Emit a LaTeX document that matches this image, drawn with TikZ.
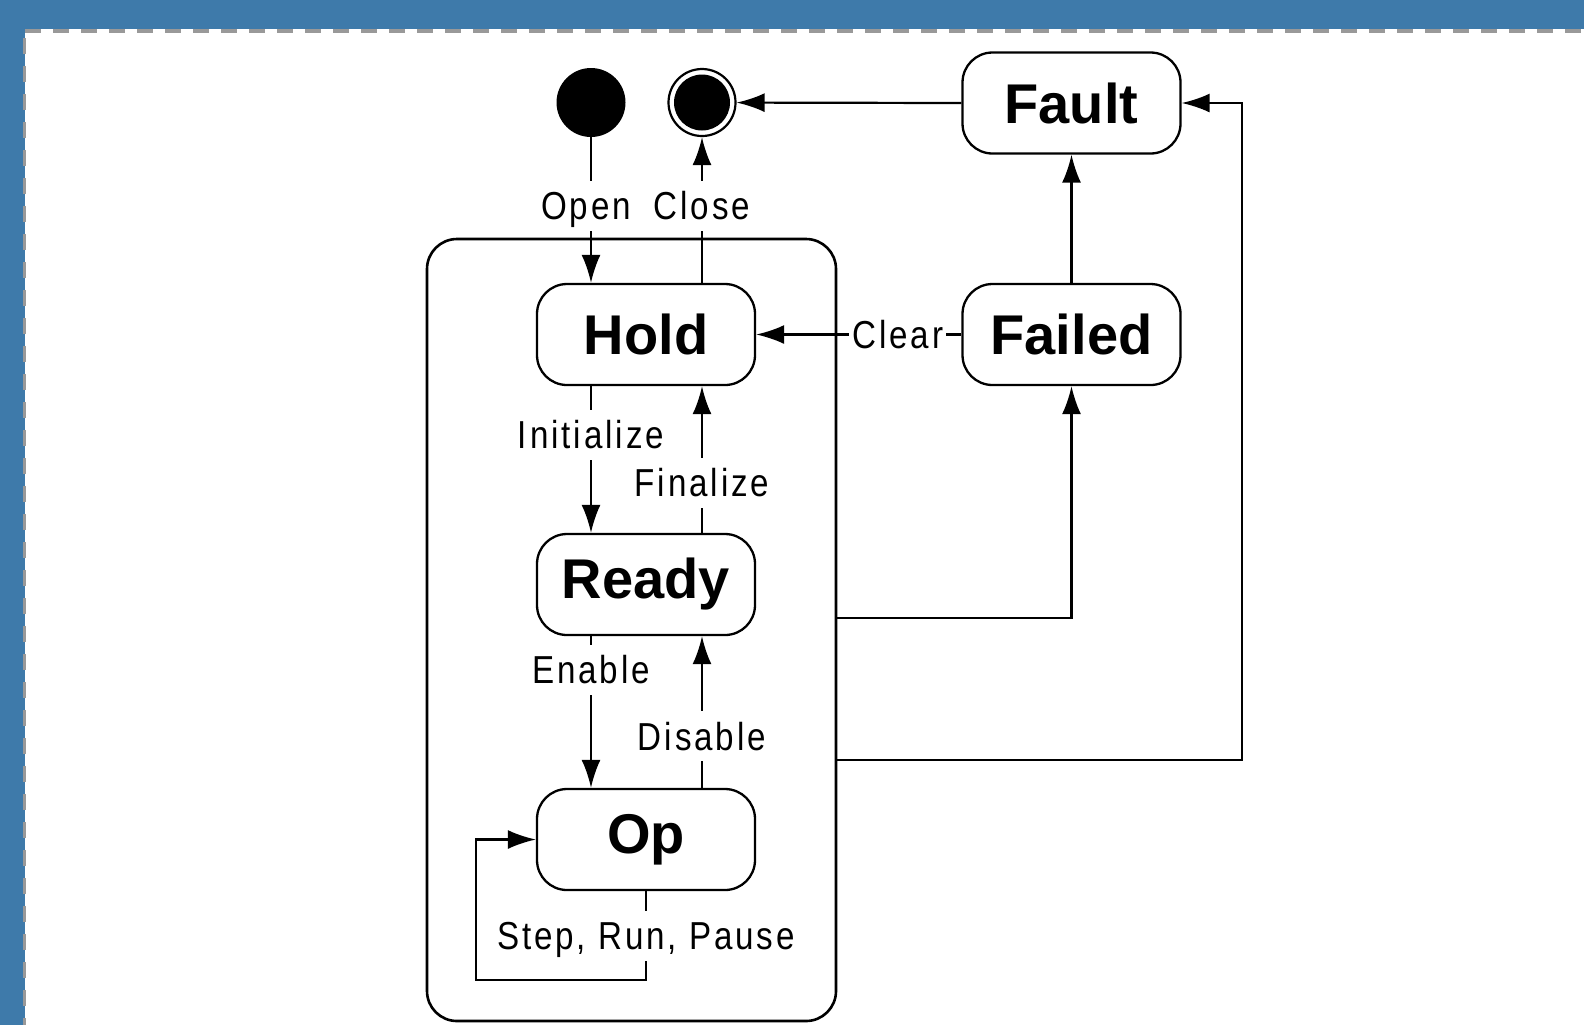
\documentclass[tikz,border=0pt]{standalone}
\usepackage{fontspec}
\setmainfont{Liberation Sans}
\newfontfamily\lblfont[FakeStretch=0.85,LetterSpace=7.5]{Liberation Sans}
\usetikzlibrary{arrows.meta}
\definecolor{frameblue}{RGB}{62,122,170}

\begin{document}
\begin{tikzpicture}[x=0.5pt, y=-0.5pt, >={Latex[length=14pt,width=9.5pt]},
  stbox/.style={draw, line width=1.15pt, rounded corners=15pt, fill=white,
    minimum width=109pt, minimum height=50.5pt, inner sep=0pt,
    font=\bfseries\fontsize{28}{30}\selectfont},
  trans/.style={fill=white, inner xsep=1.5pt, inner ysep=2.5pt,
    text height=17pt, text depth=3pt,
    font=\lblfont\fontsize{19.5}{22}\selectfont},
  conn/.style={line width=1.1pt}]
\useasboundingbox (0,0) rectangle (1584,1025);

% ===== frame =====
\fill[frameblue] (0,0) rectangle (1584,29);
\fill[frameblue] (0,0) rectangle (25,1025);
\draw[gray!80, line width=1.7pt, dash pattern=on 8pt off 6pt] (25,31) -- (1584,31);
\draw[gray!80, line width=1.7pt, dash pattern=on 8pt off 6pt] (24.7,38) -- (24.7,1025);

% ===== composite state =====
\node[draw, line width=1.3pt, rounded corners=15pt, minimum width=204.5pt,
  minimum height=391pt] (ops) at (631.5,630) {};

% ===== pseudo states =====
\node[circle, fill, minimum size=34.5pt, inner sep=0pt] (init) at (591,102.5) {};
\node[circle, draw, line width=1.1pt, minimum size=33.5pt, inner sep=0pt] (final) at (702,102.5) {};
\node[circle, fill, minimum size=28pt, inner sep=0pt] (finaldot) at (final) {};

% ===== states =====
\node[stbox] (hold)   at (646,334.5)  {Hold};
\node[stbox] (ready)  at (646,584.5)  {Ready};
\node[stbox] (op)     at (646,839.5)  {Op};
\node[stbox] (failed) at (1071.5,334.5) {Failed};
\node[stbox] (fault)  at (1071.5,103)   {Fault};

\coordinate (failtap)  at (0,618);
\coordinate (faulttap) at (0,760);
\coordinate (faultbus) at (1242,103);
\coordinate (loopcorner) at (476,980);

% ===== transitions =====
\draw[conn,->] (init) -- node[trans, pos=0.47, xshift=-2.5pt] {Open} (init |- hold.north);
\draw[conn,->] (hold.north -| final) -- node[trans, pos=0.53] {Close} (final);
\draw[conn,->] (hold.south -| init) -- node[trans, pos=0.33] {Initialize} (ready.north -| init);
\draw[conn,->] (ready.north -| final) -- node[trans, pos=0.34] {Finalize} (hold.south -| final);
\draw[conn,->] (ready.south -| init) -- node[trans, pos=0.22] {Enable} (op.north -| init);
\draw[conn,->] (op.north -| final) -- node[trans, pos=0.34] {Disable} (ready.south -| final);
\draw[conn,->] (op.south) |- node[trans, pos=0.25] {Step, Run, Pause} (loopcorner) |- (op.west);

\draw[conn,->] (failed.west) -- node[trans, pos=0.31] {Clear} (hold.east);
\draw[conn,->] (failed) -- (fault);
\draw[conn,->] (fault.west) -- (final);
\draw[conn,->] (ops.east |- failtap) -| (failed.south);
\draw[conn,->] (ops.east |- faulttap) -| (faultbus) -- (fault.east);
\end{tikzpicture}
\end{document}
